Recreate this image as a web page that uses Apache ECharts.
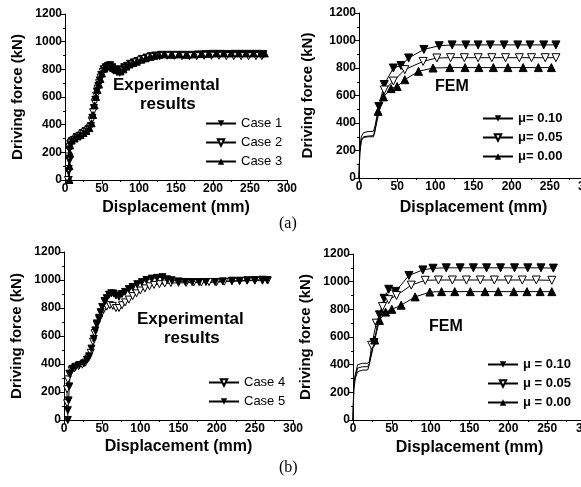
<!DOCTYPE html>
<html>
<head>
<meta charset="utf-8">
<script src="https://cdn.jsdelivr.net/npm/echarts@6/dist/echarts.min.js"></script>
<style>
    html, body { margin: 0; padding: 0; background: #fff; }
    #main { width: 581px; height: 487px; }
</style>
</head>
<body>
<div id="main"></div>
<script>
// 轴刻度
const xTicks = [0, 50, 100, 150, 200, 250, 300];
const yTicks = [0, 200, 400, 600, 800, 1000, 1200];

// (a) 试验结果 [位移mm, 推力kN]
const case1 = [[5,0],[5,60],[6,140],[6,220],[7,260],[9,280],[12,290],[16,310],[20,320],[24,340],[28,355],[32,370],[35,390],[37,450],[39,520],[41,580],[43,640],[45,680],[47,720],[49,760],[52,800],[55,815],[58,825],[61,830],[64,815],[67,800],[70,795],[73,790],[76,800],[80,815],[84,825],[88,840],[93,850],[98,860],[104,875],[110,885],[116,895],[122,900],[130,905],[140,905],[150,905],[160,905],[170,905],[180,908],[190,910],[200,912],[210,912],[220,910],[230,912],[240,912],[250,912],[260,912],[268,910]];
const case2 = [[4,0],[5,80],[5,170],[6,240],[8,270],[11,285],[15,300],[19,315],[23,330],[27,345],[31,360],[34,380],[36,430],[38,490],[40,560],[42,610],[44,660],[46,700],[48,740],[51,780],[54,800],[57,810],[60,815],[63,805],[66,790],[70,780],[74,775],[78,790],[82,805],[86,820],[91,835],[96,850],[102,865],[108,875],[114,885],[120,890],[128,895],[138,898],[148,898],[158,895],[168,895],[178,895],[188,898],[198,898],[208,898],[218,895],[228,895],[238,895],[248,895],[258,895],[266,895]];
const case3 = [[6,0],[6,100],[7,190],[7,250],[9,285],[13,300],[17,315],[21,325],[25,340],[29,355],[33,375],[36,410],[38,470],[40,540],[42,600],[44,650],[46,690],[48,730],[50,770],[53,805],[56,820],[59,830],[62,825],[65,810],[68,800],[72,795],[75,785],[79,800],[83,820],[87,835],[92,845],[97,855],[103,870],[109,880],[115,890],[121,898],[127,905],[135,908],[145,905],[155,908],[165,905],[175,908],[185,910],[195,912],[205,915],[215,915],[225,915],[235,915],[245,915],[255,915],[265,915],[270,915]];

// (a) FEM
const femA10 = [[0,0],[1,200],[3,300],[6,330],[12,338],[19,340],[21,380],[26,520],[33,680],[45,800],[55,818],[65,873],[85,935],[105,962],[122,968],[140,968],[156,968],[172,968],[190,968],[208,968],[224,968],[242,968],[258,968]];
const femA05 = [[0,0],[1,190],[3,280],[6,300],[12,305],[19,308],[21,350],[33,640],[45,705],[60,788],[84,848],[102,873],[120,875],[138,875],[156,875],[174,875],[192,875],[210,875],[226,875],[244,875],[258,875]];
const femA00 = [[0,0],[1,180],[3,270],[6,295],[12,300],[19,300],[21,340],[25,485],[32,590],[42,650],[50,665],[60,715],[78,776],[97,800],[119,803],[139,803],[157,803],[176,803],[195,803],[215,803],[235,803],[252,803]];

// (b) 试验结果
const case4 = [[4,120],[4,220],[5,290],[7,330],[10,355],[14,370],[19,385],[24,395],[28,410],[32,440],[35,480],[38,560],[40,620],[43,680],[46,720],[49,760],[52,790],[56,810],[60,820],[64,815],[68,800],[72,800],[76,820],[80,840],[85,860],[90,885],[95,905],[100,925],[106,940],[112,955],[118,965],[125,970],[132,975],[140,978],[150,980],[160,980],[170,982],[180,982],[190,985],[200,985],[210,988],[220,990],[230,992],[240,995],[250,995],[260,995],[267,997]];
const case5 = [[5,0],[5,70],[6,140],[7,240],[8,330],[11,365],[15,380],[20,392],[26,404],[30,430],[33,455],[36,510],[39,580],[41,640],[43,690],[46,730],[48,770],[50,808],[53,850],[56,870],[59,895],[62,905],[65,903],[68,890],[72,880],[76,900],[80,915],[85,935],[90,950],[96,970],[102,985],[108,1000],[115,1010],[122,1015],[129,1020],[135,1005],[141,998],[150,990],[159,986],[168,985],[177,985],[186,985],[198,986],[208,990],[220,995],[230,995],[240,998],[250,1000],[260,1002],[266,1000]];

// (b) FEM
const femB10 = [[0,0],[1,260],[3,330],[6,400],[12,410],[19,410],[21,425],[27,560],[34,760],[40,880],[46,945],[55,930],[72,1045],[90,1085],[103,1097],[120,1100],[138,1100],[155,1100],[172,1100],[190,1100],[208,1100],[225,1100],[242,1100],[258,1098]];
const femB05 = [[0,0],[1,240],[3,320],[6,375],[12,385],[19,385],[21,410],[24,540],[30,700],[38,820],[46,870],[56,900],[75,975],[93,1010],[110,1012],[128,1012],[146,1012],[164,1012],[182,1012],[200,1012],[218,1012],[236,1012],[256,1010]];
const femB00 = [[0,0],[1,220],[3,300],[6,350],[12,360],[19,362],[21,400],[28,578],[34,720],[42,780],[50,800],[62,830],[80,890],[99,925],[114,928],[131,928],[151,928],[170,928],[187,928],[207,928],[224,928],[241,928],[256,928]];

const FONT = '"Liberation Sans", Arial, sans-serif';

let myChart = echarts.init(document.getElementById('main'));

//坐标轴
function makeXAxis(idx, gap) {
    return {
        type: 'value', gridIndex: idx,
        min: xTicks[0], max: xTicks[xTicks.length - 1], interval: 50,
        name: 'Displacement (mm)', nameLocation: 'middle', nameGap: gap,
        nameTextStyle: { fontFamily: FONT, fontWeight: 'bold', fontSize: 16, color: '#000' },
        axisLine: { lineStyle: { color: '#000', width: 1 } },
        axisTick: { length: 4, lineStyle: { color: '#000' } },
        minorTick: { show: true, splitNumber: 2, length: 2, lineStyle: { color: '#000' } },
        splitLine: { show: false },
        axisLabel: { fontFamily: FONT, fontWeight: 'bold', fontSize: 12, color: '#000', margin: 3, formatter: v => String(v) }
    };
}
function makeYAxis(idx, gap) {
    return {
        type: 'value', gridIndex: idx,
        min: yTicks[0], max: yTicks[yTicks.length - 1], interval: 200,
        name: 'Driving force (kN)', nameLocation: 'middle', nameGap: gap,
        nameTextStyle: { fontFamily: FONT, fontWeight: 'bold', fontSize: 15, color: '#000' },
        axisLine: { show: true, lineStyle: { color: '#000', width: 1 } },
        axisTick: { show: true, length: 4, lineStyle: { color: '#000' } },
        minorTick: { show: true, splitNumber: 2, length: 2, lineStyle: { color: '#000' } },
        splitLine: { show: false },
        axisLabel: { fontFamily: FONT, fontWeight: 'bold', fontSize: 12, color: '#000', margin: 3, formatter: v => String(v) }
    };
}

//系列样式
const filledDown = { symbol: 'triangle', symbolRotate: 180, itemStyle: { color: '#000', borderColor: '#000' } };
const hollowDown = { symbol: 'triangle', symbolRotate: 180, itemStyle: { color: '#fff', borderColor: '#000', borderWidth: 1 } };
const filledUp = { symbol: 'triangle', symbolRotate: 0, itemStyle: { color: '#000', borderColor: '#000' } };

function expSeries(name, data, idx, style) {
    return Object.assign({
        name: name, type: 'line', data: data,
        xAxisIndex: idx, yAxisIndex: idx,
        symbolSize: 7, showAllSymbol: true,
        lineStyle: { color: '#000', width: 1 },
        animation: false
    }, style);
}
function femSeries(name, data, idx, style) {
    return Object.assign({
        name: name, type: 'line', data: data,
        xAxisIndex: idx, yAxisIndex: idx,
        // 前段平台不画标记
        symbolSize: val => (val[0] < 22 ? 0 : 8),
        showAllSymbol: true,
        lineStyle: { color: '#000', width: 1 },
        animation: false
    }, style);
}

function makeLegend(names, left, top, bold) {
    return {
        data: names,
        orient: 'vertical', left: left, top: top,
        itemWidth: 30, itemHeight: 8, itemGap: 6,
        textStyle: { fontFamily: FONT, fontSize: 13, fontWeight: bold ? 'bold' : 'normal', color: '#000' },
        selectedMode: false
    };
}

function label(text, x, y, size) {
    return {
        type: 'text', left: x, top: y,
        style: { text: text, font: 'bold ' + size + 'px ' + FONT, fill: '#000' }
    };
}

let option = {
    backgroundColor: '#fff',
    animation: false,
    grid: [
        { left: 65, top: 14, width: 222, height: 166, outerBoundsMode: 'none' },
        { left: 359, top: 13, width: 229, height: 165, outerBoundsMode: 'none' },
        { left: 64, top: 252, width: 229, height: 168, outerBoundsMode: 'none' },
        { left: 353, top: 254, width: 233, height: 166, outerBoundsMode: 'none' }
    ],
    xAxis: [makeXAxis(0, 20), makeXAxis(1, 22), makeXAxis(2, 19), makeXAxis(3, 20)],
    yAxis: [makeYAxis(0, 40), makeYAxis(1, 44), makeYAxis(2, 40), makeYAxis(3, 40)],
    legend: [
        makeLegend(['Case 1', 'Case 2', 'Case 3'], 200, 112, false),
        makeLegend(['μ= 0.10', 'μ= 0.05', 'μ= 0.00'], 477, 107, true),
        makeLegend(['Case 4', 'Case 5'], 203, 371, false),
        makeLegend(['μ = 0.10', 'μ = 0.05', 'μ = 0.00'], 482, 353, true)
    ],
    series: [
        expSeries('Case 1', case1, 0, filledDown),
        expSeries('Case 2', case2, 0, hollowDown),
        expSeries('Case 3', case3, 0, filledUp),
        femSeries('μ= 0.10', femA10, 1, filledDown),
        femSeries('μ= 0.05', femA05, 1, hollowDown),
        femSeries('μ= 0.00', femA00, 1, filledUp),
        expSeries('Case 4', case4, 2, hollowDown),
        expSeries('Case 5', case5, 2, filledDown),
        femSeries('μ = 0.10', femB10, 3, filledDown),
        femSeries('μ = 0.05', femB05, 3, hollowDown),
        femSeries('μ = 0.00', femB00, 3, filledUp)
    ],
    graphic: [
        label('Experimental', 113, 77, 17),
        label('results', 140, 96, 17),
        label('FEM', 435, 79, 16),
        label('Experimental', 137, 311, 17),
        label('results', 164, 330, 17),
        label('FEM', 429, 319, 16),
        { type: 'text', left: 279, top: 216, style: { text: '(a)', font: '16px "Liberation Serif", "Times New Roman", serif', fill: '#000' } },
        { type: 'text', left: 279, top: 460, style: { text: '(b)', font: '16px "Liberation Serif", "Times New Roman", serif', fill: '#000' } }
    ]
};
myChart.setOption(option);
</script>
</body>
</html>
